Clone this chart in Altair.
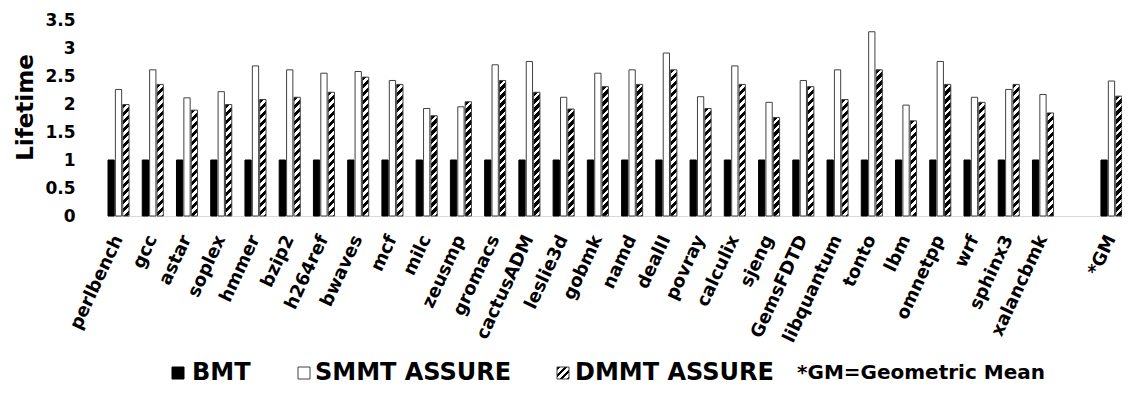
import altair as alt

# ---------------- data ----------------
benchmarks = ["perlbench", "gcc", "astar", "soplex", "hmmer", "bzip2", "h264ref",
              "bwaves", "mcf", "milc", "zeusmp", "gromacs", "cactusADM", "leslie3d",
              "gobmk", "namd", "dealII", "povray", "calculix", "sjeng", "GemsFDTD",
              "libquantum", "tonto", "lbm", "omnetpp", "wrf", "sphinx3", "xalancbmk",
              "*GM"]
bmt = [1.0, 1.0, 1.0, 1.0, 1.0, 1.0, 1.0, 1.0, 1.0, 1.0, 1.0, 1.0, 1.0, 1.0,
       1.0, 1.0, 1.0, 1.0, 1.0, 1.0, 1.0, 1.0, 1.0, 1.0, 1.0, 1.0, 1.0, 1.0, 1.0]
smmt = [2.26, 2.61, 2.11, 2.22, 2.68, 2.61, 2.55, 2.58, 2.42, 1.92, 1.95, 2.70,
        2.76, 2.12, 2.55, 2.61, 2.91, 2.13, 2.68, 2.03, 2.42, 2.61, 3.29, 1.98,
        2.76, 2.12, 2.26, 2.17, 2.41]
dmmt = [1.99, 2.35, 1.89, 1.99, 2.08, 2.12, 2.21, 2.48, 2.35, 1.79, 2.04, 2.42,
        2.21, 1.91, 2.31, 2.35, 2.61, 1.92, 2.35, 1.76, 2.31, 2.08, 2.61, 1.70,
        2.35, 2.03, 2.35, 1.84, 2.14]
series_names = ["BMT", "SMMT ASSURE", "DMMT ASSURE"]
y_ticks = [0, 0.5, 1, 1.5, 2, 2.5, 3, 3.5]
gap_label = " "
note_text = "*GM=Geometric Mean"
y_title = "Lifetime"

# ---------------- layout / style ----------------
FONT = "DejaVu Sans"
PLOT_W, PLOT_H = 1014, 196
Y_MAX = 3.5
PAD = {"left": 100, "top": 12, "right": 0, "bottom": 170}
X_PAD_INNER = 0.385
OFF_PAD_INNER = 0.15
HATCH_PERIOD = 8.0
HATCH_BLACK = 0.55
OUTLINE = "#404040"

x_domain = benchmarks[:-1] + [gap_label] + benchmarks[-1:]

# pixel size of a bar (for an angle-correct diagonal hatch gradient)
step = PLOT_W / (len(x_domain) - X_PAD_INNER)
band = step * (1 - X_PAD_INNER)
bar_w = band / (len(series_names) - OFF_PAD_INNER) * (1 - OFF_PAD_INNER)
px_per_unit = PLOT_H / Y_MAX


def hatch(w, h, period=HATCH_PERIOD):
    s = (w + h) / (w * w + h * h)
    total = w + h
    stops = []
    k = 0
    while k * period < total:
        a = k * period / total
        b = min((k * period + period * HATCH_BLACK) / total, 1.0)
        c = min((k + 1) * period / total, 1.0)
        stops += [{"offset": a, "color": "black"}, {"offset": b, "color": "black"},
                  {"offset": b, "color": "white"}, {"offset": c, "color": "white"}]
        k += 1
    return {"gradient": "linear", "x1": 0, "y1": 0, "x2": w * s, "y2": h * s,
            "stops": stops}


rows = []
for i, b in enumerate(benchmarks):
    rows.append({"bench": b, "series": series_names[0], "value": bmt[i],
                 "fill": "black", "stroke": "black"})
    rows.append({"bench": b, "series": series_names[1], "value": smmt[i],
                 "fill": "white", "stroke": OUTLINE})
    rows.append({"bench": b, "series": series_names[2], "value": dmmt[i],
                 "fill": hatch(bar_w, dmmt[i] * px_per_unit), "stroke": OUTLINE})

bars = alt.Chart(alt.InlineData(values=rows)).mark_bar(strokeWidth=1).encode(
    x=alt.X("bench:N", sort=x_domain,
            scale=alt.Scale(domain=x_domain, paddingInner=X_PAD_INNER, paddingOuter=0),
            axis=alt.Axis(title=None, labelAngle=295, labelAlign="right",
                          labelBaseline="middle", labelFont=FONT, labelFontSize=18,
                          labelFontWeight="bold", labelColor="black", labelPadding=20,
                          labelOverlap=False, labelLimit=300, ticks=False,
                          domainColor="#d9d9d9", domainWidth=1)),
    xOffset=alt.XOffset("series:N", sort=series_names,
                        scale=alt.Scale(domain=series_names, paddingInner=OFF_PAD_INNER,
                                        paddingOuter=0)),
    y=alt.Y("value:Q", stack=None,
            scale=alt.Scale(domain=[0, Y_MAX], nice=False, zero=True),
            axis=alt.Axis(title=y_title, values=y_ticks, format="~g", grid=False,
                          domain=False, ticks=False, labelFont=FONT, labelFontSize=17,
                          labelFontWeight="bold", labelColor="black", labelPadding=33,
                          titleFont=FONT, titleFontSize=23, titleFontWeight="bold",
                          titleColor="black", titleAngle=270, titleX=-76, titleY=87,
                          titleAlign="center", titleBaseline="alphabetic")),
    fill=alt.Fill("fill:N", scale=None),
    stroke=alt.Stroke("stroke:N", scale=None),
)

one = alt.InlineData(values=[{"k": 0}])
LEG_Y0, LEG_Y1 = 347, 359
LEG_BASE = 360


def swatch(x0, fill, stroke):
    return alt.Chart(one).mark_rect(fill=fill, stroke=stroke, strokeWidth=1).encode(
        x=alt.value(x0), x2=alt.value(x0 + 12), y=alt.value(LEG_Y0), y2=alt.value(LEG_Y1))


def label(x0, txt, size, base=LEG_BASE):
    return alt.Chart(one).mark_text(align="left", baseline="alphabetic", font=FONT,
                                    fontSize=size, fontWeight="bold", color="black").encode(
        x=alt.value(x0), y=alt.value(base), text=alt.value(txt))


leg_hatch = hatch(12, 12, 7.0)
legend = [
    swatch(64, "black", "black"), label(84, series_names[0], 24),
    swatch(190, "white", OUTLINE), label(207, series_names[1], 24),
    alt.Chart(one).mark_rect(fill=alt.LinearGradient(**leg_hatch),
                             stroke=OUTLINE, strokeWidth=1).encode(
        x=alt.value(449), x2=alt.value(461), y=alt.value(LEG_Y0), y2=alt.value(LEG_Y1)),
    label(467, series_names[2], 24),
    label(689, note_text, 20, LEG_BASE - 1),
]

chart = alt.layer(bars, *legend).properties(
    width=PLOT_W, height=PLOT_H, padding=PAD, autosize=alt.AutoSizeParams(type="none"),
    background="white",
).configure_view(stroke=None)

chart.save("out.html", embed_options={"renderer": "svg", "actions": False})
